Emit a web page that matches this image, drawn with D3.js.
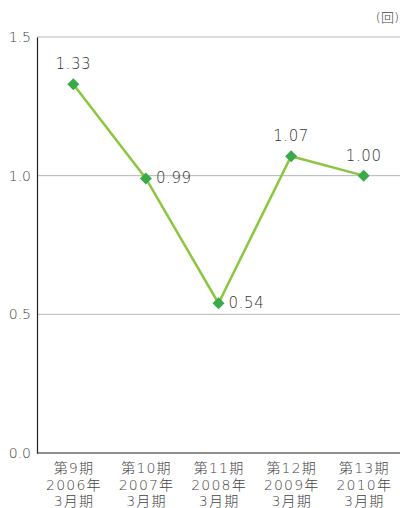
<!DOCTYPE html>
<html>
<head>
<meta charset="utf-8">
<script src="https://cdn.jsdelivr.net/npm/d3@7"></script>
<style>
  body { margin: 0; background: #fff; }
  text { font-family: "DejaVu Sans", "Noto Sans CJK JP", sans-serif; font-weight: 200; }
</style>
</head>
<body>
<div id="chart"></div>
<script>
// data
const periods = ['第9期', '第10期', '第11期', '第12期', '第13期']
const years = ['2006年', '2007年', '2008年', '2009年', '2010年']
const suffix = ['3月期', '3月期', '3月期', '3月期', '3月期']
const values = [1.33, 0.99, 0.54, 1.07, 1.00]
const labelPos = ['top', 'right', 'right', 'top', 'top']
const yTicks = [0, 0.5, 1.0, 1.5]

const MARGIN = { TOP: 37, BOTTOM: 55, LEFT: 37, RIGHT: 0 }
const WIDTH = 400 - MARGIN.LEFT - MARGIN.RIGHT
const HEIGHT = 508 - MARGIN.TOP - MARGIN.BOTTOM

const svg = d3.select('#chart').append('svg')
  .attr('width', 400)
  .attr('height', 508)

const g = svg.append('g')
  .attr('transform', `translate(${MARGIN.LEFT}, ${MARGIN.TOP})`)

// scales
const x = d3.scaleBand()
  .domain(periods)
  .range([0, WIDTH])
const y = d3.scaleLinear()
  .domain([0, 1.5])
  .range([HEIGHT, 0])
const cx = d => x(d) + x.bandwidth() / 2

// grid
g.selectAll('.grid')
  .data(yTicks.filter(d => d > 0))
  .enter().append('line')
  .attr('x1', 0).attr('x2', WIDTH)
  .attr('y1', d => y(d)).attr('y2', d => y(d))
  .attr('stroke', '#b5b5b5')
  .attr('stroke-width', 1)

// y axis
const yAxis = g.append('g')
  .call(d3.axisLeft(y).tickValues(yTicks).tickFormat(d3.format('.1f')).tickSize(0).tickPadding(6))
yAxis.select('.domain').attr('stroke', '#222').attr('stroke-width', 1.2)
yAxis.selectAll('text').attr('font-size', 14).attr('fill', '#444')
  .style('font-family', '"DejaVu Sans", sans-serif').style('font-weight', 200)

// x axis baseline
g.append('line')
  .attr('x1', 0).attr('x2', WIDTH)
  .attr('y1', HEIGHT).attr('y2', HEIGHT)
  .attr('stroke', '#222').attr('stroke-width', 1.2)

// category labels, one text per row
const rows = [periods, years, suffix]
rows.forEach((row, r) => {
  g.selectAll('.cat' + r)
    .data(row)
    .enter().append('text')
    .attr('text-anchor', 'middle')
    .attr('font-size', 14)
    .attr('letter-spacing', 1.2)
    .attr('fill', '#444')
    .attr('x', (d, i) => cx(periods[i]) + 0.6)
    .attr('y', HEIGHT + 20 + r * 16.5)
    .text(d => d)
})

// line
const line = d3.line()
  .x((d, i) => cx(periods[i]))
  .y(d => y(d))

g.append('path')
  .datum(values)
  .attr('fill', 'none')
  .attr('stroke', '#8cc63f')
  .attr('stroke-width', 2.5)
  .attr('d', line)

// markers
g.selectAll('.marker')
  .data(values)
  .enter().append('path')
  .attr('d', d3.symbol().type(d3.symbolSquare).size(72))
  .attr('transform', (d, i) => `translate(${cx(periods[i])}, ${y(d)}) rotate(45)`)
  .attr('fill', '#3aaa48')

// value labels
g.selectAll('.val')
  .data(values)
  .enter().append('text')
  .attr('font-size', 15)
  .attr('letter-spacing', 0.6)
  .attr('fill', '#333')
  .attr('text-anchor', (d, i) => labelPos[i] === 'top' ? 'middle' : 'start')
  .attr('x', (d, i) => cx(periods[i]) + (labelPos[i] === 'top' ? 0 : 10))
  .attr('y', (d, i) => y(d) + (labelPos[i] === 'top' ? -15 : 5))
  .text(d => d3.format('.2f')(d))

// unit
svg.append('text')
  .attr('x', 399).attr('y', 22)
  .attr('text-anchor', 'end')
  .attr('font-size', 13)
  .attr('fill', '#444')
  .text('(回)')
</script>
</body>
</html>
